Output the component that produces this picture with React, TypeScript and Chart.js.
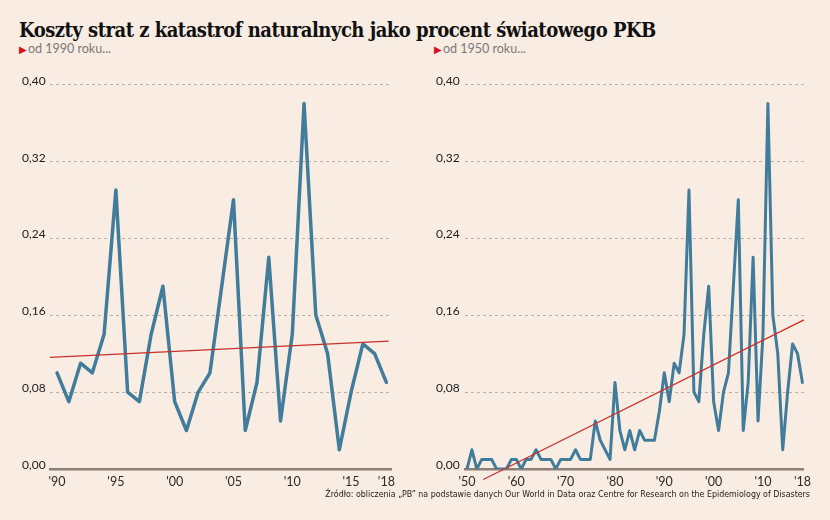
import { useEffect, useRef } from 'react';
import Chart from 'chart.js/auto';

// values (share of world GDP)
const firstYearShort = 1990;
const lossShort = [
  0.10, 0.07, 0.11, 0.10, 0.14, 0.29, 0.08, 0.07, 0.14, 0.19,
  0.07, 0.04, 0.08, 0.10, 0.19, 0.28, 0.04, 0.09, 0.22, 0.05,
  0.14, 0.38, 0.16, 0.12, 0.02, 0.08, 0.13, 0.12, 0.09,
];
const trendShortX = [1989.4, 2018.2];
const trendShortY = [0.116, 0.133];
const ticksShort = [1990, 1995, 2000, 2005, 2010, 2015, 2018];

const firstYearLong = 1950;
const lossLong = [
  0, 0.02, 0, 0.01, 0.01, 0.01, 0, 0, 0, 0.01,
  0.01, 0, 0.01, 0.01, 0.02, 0.01, 0.01, 0.01, 0, 0.01,
  0.01, 0.01, 0.02, 0.01, 0.01, 0.01, 0.05, 0.03, 0.02, 0.01,
  0.09, 0.04, 0.02, 0.04, 0.02, 0.04, 0.03, 0.03, 0.03, 0.06,
  ...lossShort,
];
const trendLongX = [1953.3, 2018.3];
const trendLongY = [-0.011, 0.155];
const ticksLong = [1950, 1960, 1970, 1980, 1990, 2000, 2010, 2018];

const yTicks = [0, 0.08, 0.16, 0.24, 0.32, 0.4];

const BG = '#f9ece2';
const LINE = '#417c9b';
const TREND = '#c8302c';
const FONT = 'Lato, "Open Sans", sans-serif';

interface PanelProps {
  startYear: number;
  values: number[];
  trendX: number[];
  trendY: number[];
  xTicks: number[];
  xMin: number;
  xMax: number;
  lineWidth: number;
  style: React.CSSProperties;
  axisWidth: number;
}

function Panel({ startYear, values, trendX, trendY, xTicks, xMin, xMax, lineWidth, style, axisWidth }: PanelProps) {
  const canvasRef = useRef<HTMLCanvasElement>(null);

  useEffect(() => {
    if (!canvasRef.current) return;
    const chart = new Chart(canvasRef.current, {
      type: 'line',
      data: {
        datasets: [
          {
            data: values.map((v, i) => ({ x: startYear + i, y: v })),
            borderColor: LINE,
            borderWidth: lineWidth,
            pointRadius: 0,
            tension: 0,
            borderJoinStyle: 'round',
            borderCapStyle: 'round',
            order: 2,
          },
          {
            data: trendX.map((x, i) => ({ x, y: trendY[i] })),
            borderColor: TREND,
            borderWidth: 1.2,
            pointRadius: 0,
            clip: false,
            order: 1,
          },
        ],
      },
      options: {
        animation: false,
        responsive: false,
        events: [],
        layout: { padding: { top: 10, right: 7, bottom: 0, left: 0 } },
        plugins: { legend: { display: false }, tooltip: { enabled: false } },
        scales: {
          x: {
            type: 'linear',
            min: xMin,
            max: xMax,
            grid: { display: false, drawTicks: false },
            border: { display: true, color: '#8c8076', width: 2.5 },
            afterBuildTicks: (axis) => {
              axis.ticks = xTicks.map((value) => ({ value }));
            },
            ticks: {
              padding: 5,
              color: '#2b2b2b',
              font: { family: FONT, size: 12.5 },
              maxRotation: 0,
              callback: (v) => "'" + String(v).slice(2),
            },
          },
          y: {
            min: 0,
            max: 0.4,
            afterBuildTicks: (axis) => {
              axis.ticks = yTicks.map((value) => ({ value }));
            },
            afterFit: (axis) => {
              axis.width = axisWidth;
            },
            grid: {
              drawTicks: false,
              color: (ctx) => (ctx.tick && ctx.tick.value === 0 ? 'rgba(0,0,0,0)' : '#a9a29a'),
              lineWidth: 0.8,
            },
            border: { display: false, dash: [3, 3] },
            ticks: {
              crossAlign: 'far',
              labelOffset: -3.5,
              color: '#222',
              font: { family: FONT, size: 12 },
              callback: (v) => Number(v).toFixed(2).replace('.', ','),
            },
          },
        },
      },
    });
    return () => chart.destroy();
  }, []);

  return <canvas ref={canvasRef} width={style.width as number} height={style.height as number} style={{ position: 'absolute', ...style }} />;
}

function Subtitle({ left, text }: { left: number; text: string }) {
  return (
    <div style={{ position: 'absolute', left, top: 42, fontFamily: FONT, fontSize: 12.5, color: '#7a7a7a', whiteSpace: 'nowrap', lineHeight: '14px' }}>
      <span style={{ color: '#d5121b', fontSize: 10, marginRight: 1 }}>▶</span>
      {text}
    </div>
  );
}

export default function App() {
  return (
    <div style={{ position: 'fixed', left: 0, top: 0, width: 830, height: 520, background: BG, overflow: 'hidden' }}>
      <div
        style={{
          position: 'absolute',
          left: 19,
          top: 18,
          fontFamily: '"DejaVu Serif", serif',
          fontStretch: 'condensed',
          fontWeight: 'bold',
          fontSize: 20,
          letterSpacing: -0.5,
          lineHeight: '24px',
          color: '#111',
          whiteSpace: 'nowrap',
        }}
      >
        Koszty strat z katastrof naturalnych jako procent światowego PKB
      </div>
      <Subtitle left={19} text="od 1990 roku..." />
      <Subtitle left={434} text="od 1950 roku..." />
      <Panel
        startYear={firstYearShort}
        values={lossShort}
        trendX={trendShortX}
        trendY={trendShortY}
        xTicks={ticksShort}
        xMin={1989.4}
        xMax={2018.4}
        lineWidth={3.5}
        axisWidth={28}
        style={{ left: 22, top: 74, width: 378, height: 420 }}
      />
      <Panel
        startYear={firstYearLong}
        values={lossLong}
        trendX={trendLongX}
        trendY={trendLongY}
        xTicks={ticksLong}
        xMin={1949.6}
        xMax={2018.3}
        lineWidth={3}
        axisWidth={29}
        style={{ left: 436, top: 74, width: 380, height: 420 }}
      />
      <div
        style={{
          position: 'absolute',
          right: 20,
          top: 489,
          fontFamily: '"Liberation Sans Narrow", "DejaVu Sans Condensed", sans-serif',
          fontSize: 8.8,
          color: '#222',
          whiteSpace: 'nowrap',
        }}
      >
        Źródło: obliczenia „PB” na podstawie danych Our World in Data oraz Centre for Research on the Epidemiology of Disasters
      </div>
    </div>
  );
}
